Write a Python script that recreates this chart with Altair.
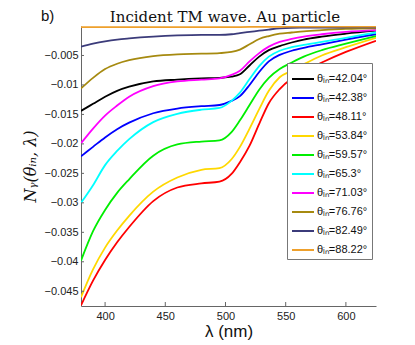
import altair as alt
import pandas as pd

lam = [380, 390, 400, 410, 420, 440, 460, 480, 495, 505, 512, 520, 528, 536, 545, 555, 565, 580, 600, 625]

ny_42_04 = [-0.0144, -0.0132, -0.0120, -0.0110, -0.0103, -0.0094, -0.0091, -0.0089, -0.0088, -0.0086, -0.0082, -0.0067, -0.0052, -0.0041, -0.0034, -0.0028, -0.0023, -0.0018, -0.0013, -0.0008]
ny_42_38 = [-0.0221, -0.0205, -0.0189, -0.0175, -0.0164, -0.0148, -0.0140, -0.0136, -0.0134, -0.0127, -0.0119, -0.0100, -0.0078, -0.0060, -0.0049, -0.0042, -0.0037, -0.0031, -0.0023, -0.0014]
ny_48_11 = [-0.0474, -0.0432, -0.0397, -0.0367, -0.0341, -0.0297, -0.0274, -0.0267, -0.0264, -0.0251, -0.0231, -0.0203, -0.0166, -0.0131, -0.0107, -0.0089, -0.0077, -0.0062, -0.0044, -0.0025]
ny_53_84 = [-0.0460, -0.0413, -0.0376, -0.0347, -0.0322, -0.0281, -0.0257, -0.0244, -0.0241, -0.0226, -0.0205, -0.0174, -0.0141, -0.0110, -0.0087, -0.0076, -0.0065, -0.0050, -0.0036, -0.0020]
ny_59_57 = [-0.0398, -0.0348, -0.0312, -0.0283, -0.0260, -0.0220, -0.0201, -0.0196, -0.0194, -0.0180, -0.0160, -0.0134, -0.0108, -0.0088, -0.0073, -0.0062, -0.0052, -0.0041, -0.0030, -0.0017]
ny_65_3 = [-0.0300, -0.0270, -0.0236, -0.0212, -0.0192, -0.0163, -0.0149, -0.0142, -0.0139, -0.0127, -0.0113, -0.0090, -0.0068, -0.0052, -0.0042, -0.0036, -0.0032, -0.0027, -0.0020, -0.0011]
ny_71_03 = [-0.0199, -0.0174, -0.0152, -0.0135, -0.0120, -0.0102, -0.0094, -0.0091, -0.0089, -0.0083, -0.0076, -0.0060, -0.0046, -0.0035, -0.0027, -0.0022, -0.0018, -0.0014, -0.0010, -0.0007]
ny_76_76 = [-0.0106, -0.0088, -0.0073, -0.0064, -0.0058, -0.0051, -0.0048, -0.0047, -0.0046, -0.0044, -0.0040, -0.0031, -0.0022, -0.0017, -0.0013, -0.0011, -0.0009, -0.0007, -0.0005, -0.0004]
ny_82_49 = [-0.0035, -0.0030, -0.0026, -0.0023, -0.0021, -0.0018, -0.0016, -0.0015, -0.0015, -0.0014, -0.0012, -0.0010, -0.0008, -0.0006, -0.0004, -0.0003, -0.00028, -0.00026, -0.00025, -0.00022]
ny_88_22 = [-0.0002, -0.0002, -0.0002, -0.0002, -0.0002, -0.0002, -0.0002, -0.0002, -0.0002, -0.0002, -0.00018, -0.00016, -0.00015, -0.00014, -0.00013, -0.00012, -0.00012, -0.00012, -0.00012, -0.00012]

labels = ["θᵢₙ=42.04°", "θᵢₙ=42.38°", "θᵢₙ=48.11°", "θᵢₙ=53.84°", "θᵢₙ=59.57°",
          "θᵢₙ=65.3°", "θᵢₙ=71.03°", "θᵢₙ=76.76°", "θᵢₙ=82.49°", "θᵢₙ=88.22°"]
colors = ["#000000", "#0000ff", "#ff0000", "#ffd800", "#00ee00",
          "#00ffff", "#ff00ff", "#a68a10", "#3b3b7a", "#eea02c"]
series = [ny_42_04, ny_42_38, ny_48_11, ny_53_84, ny_59_57,
          ny_65_3, ny_71_03, ny_76_76, ny_82_49, ny_88_22]

x_ticks = [400, 450, 500, 550, 600]
y_ticks = [-0.045, -0.04, -0.035, -0.03, -0.025, -0.02, -0.015, -0.01, -0.005]

title_text = ["Incident TM wave. Au particle"]
panel_text = ["b)"]

rows = []
for i, (lab, vals) in enumerate(zip(labels, series)):
    for l, v in zip(lam, vals):
        rows.append({"lam": l, "ny": v, "angle": lab, "k": i})
df = pd.DataFrame(rows)

xscale = alt.Scale(domain=[380, 625], nice=False, zero=False)
yscale = alt.Scale(domain=[-0.0475, 0], nice=False, zero=False)

xaxis = alt.Axis(values=x_ticks, title="λ (nm)", ticks=False, grid=False,
                 labelFont="Liberation Sans", labelFontSize=11, labelColor="#222",
                 labelPadding=4, domainColor="#666", labelOverlap=False,
                 titleFont="Liberation Sans", titleFontSize=17, titleFontWeight="normal",
                 titleColor="#111", titlePadding=2)
yaxis = alt.Axis(values=y_ticks, format=".3~f", title="Nᵧ(θᵢₙ, λ)", ticks=False, grid=False,
                 labelFont="Liberation Sans", labelFontSize=11, labelColor="#222",
                 labelPadding=3, domainColor="#666", labelOverlap=False,
                 titleFont="DejaVu Serif", titleFontStyle="italic", titleFontSize=16,
                 titleFontWeight="normal", titleColor="#111", titlePadding=6)

lines = alt.Chart(df).mark_line(strokeWidth=1.8, interpolate="monotone", clip=True).encode(
    x=alt.X("lam:Q", scale=xscale, axis=xaxis),
    y=alt.Y("ny:Q", scale=yscale, axis=yaxis),
    color=alt.Color("angle:N", scale=alt.Scale(domain=labels, range=colors),
                    legend=alt.Legend(title=None, orient="none", legendX=206, legendY=37,
                                      symbolType="stroke", symbolSize=484, symbolStrokeWidth=2,
                                      labelFont="Liberation Sans", labelFontSize=11, labelColor="#111",
                                      labelOffset=2, padding=4, rowPadding=2,
                                      strokeColor="#777", fillColor="white")),
    order=alt.Order("k:Q"),
)

xt = alt.Chart(pd.DataFrame({"lam": x_ticks})).mark_rule(color="#666", strokeWidth=1).encode(
    x=alt.X("lam:Q", scale=xscale, axis=xaxis), y=alt.value(280), y2=alt.value(276))
yt = alt.Chart(pd.DataFrame({"ny": y_ticks})).mark_rule(color="#666", strokeWidth=1).encode(
    y=alt.Y("ny:Q", scale=yscale, axis=yaxis), x=alt.value(0), x2=alt.value(3))

blabel = alt.Chart(pd.DataFrame({"t": panel_text})).mark_text(
    font="Liberation Sans", fontSize=15, align="left", baseline="alphabetic", color="#111"
).encode(text="t:N", x=alt.value(-40), y=alt.value(-5))

tlabel = alt.Chart(pd.DataFrame({"t": title_text})).mark_text(
    font="DejaVu Serif", fontSize=15, align="center", baseline="alphabetic", color="#111"
).encode(text="t:N", x=alt.value(144), y=alt.value(-4))

chart = alt.layer(lines, xt, yt, blabel, tlabel).properties(
    width=295, height=280,
    autosize="none",
    padding={"left": 73, "top": 18, "right": 30, "bottom": 35},
).configure_view(stroke=None)

chart.save("out.html", embed_options={"renderer": "svg", "actions": False})
